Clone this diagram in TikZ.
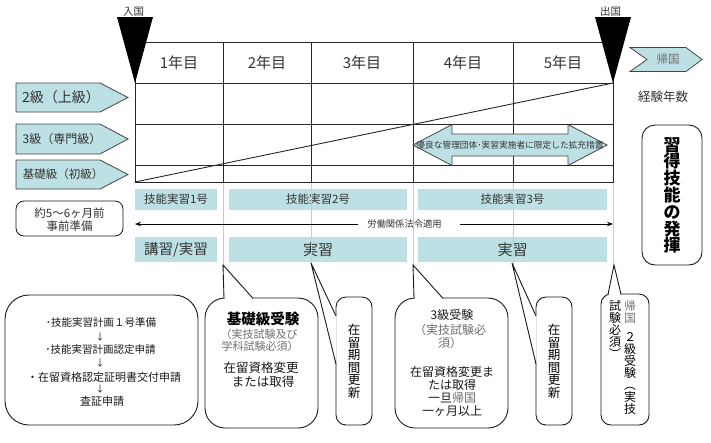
\documentclass[tikz,border=0pt]{standalone}
\usepackage{fontspec}
\setmainfont{Noto Sans CJK JP}
\usetikzlibrary{arrows.meta}
\definecolor{teal1}{HTML}{BDE0E4}
\definecolor{ink}{HTML}{333333}
\definecolor{edge}{HTML}{454545}
\definecolor{faint}{HTML}{CACACA}
\definecolor{soft}{HTML}{707070}
\newcommand{\fs}[1]{\fontsize{#1}{#1}\selectfont}
\newcommand{\fsb}[2]{\fontsize{#1}{#2}\selectfont}
\begin{document}
\begin{tikzpicture}[x=1pt,y=-1pt,
  tbl/.style={draw=black!85, line width=0.9pt},
  tealbox/.style={fill=teal1, draw=none, inner sep=0pt, text=ink},
  tag/.style={fill=teal1, draw=edge, line width=0.8pt},
  lab/.style={text=ink, inner sep=0pt},
  dark/.style={text=black!90, inner sep=0pt},
  grey/.style={text=soft, inner sep=0pt},
  vt/.style={inner sep=0pt, align=center},
  bubble/.style={draw=black!90, line width=0.9pt, fill=white},
  ptr/.style={draw=black!90, line width=0.9pt},
  guide/.style={draw=faint, line width=0.8pt},
]
\useasboundingbox (0,0) rectangle (711,442);
\fill[white] (0,0) rectangle (711,442);

% ---------- table ----------
\draw[tbl] (135,42) rectangle (613,182);
\foreach \yy in {83,124,165} \draw[tbl] (135,\yy) -- (613,\yy);
\foreach \xx in {223,311,413,513} \draw[tbl] (\xx,42) -- (\xx,182);
\draw[tbl] (135,182) -- (613,83);

\node[lab,font=\fs{15}] (y1) at (179,62.5) {1年目};
\node[lab,font=\fs{15}] (y2) at (267,62.5) {2年目};
\node[lab,font=\fs{15}] (y3) at (362,62.5) {3年目};
\node[lab,font=\fs{15}] (y4) at (463,62.5) {4年目};
\node[lab,font=\fs{15}] (y5) at (563,62.5) {5年目};

% entry / exit triangles
\fill (117,17) -- (153,17) -- (135,83) -- cycle;
\fill (595,17) -- (631,17) -- (613,83) -- cycle;
\node[lab,font=\fs{10.5}] (nyu) at (133.5,12) {入国};
\node[lab,font=\fs{10.5}] (shutsu) at (610.5,12) {出国};

% double arrow in row 3
\draw[tag] (413,145) -- (452,124.5) -- (452,134) -- (568,134) -- (568,124.5)
  -- (607,145) -- (568,165.5) -- (568,156) -- (452,156) -- (452,165.5) -- cycle;
\node[lab,font=\fs{8.7}] (kakuju) at (510,145) {優良な管理団体･実習実施者に限定した拡充措置};

% level tags
\draw[tag] (16,83) -- (100,83) -- (128,97.5) -- (100,112) -- (16,112) -- cycle;
\node[lab,font=\fs{14}] (g2) at (61,97.5) {2級（上級）};
\draw[tag] (16,124) -- (100,124) -- (128,139) -- (100,154) -- (16,154) -- cycle;
\node[lab,font=\fs{12}] (g3) at (62,139) {3級（専門級）};
\draw[tag] (16,160) -- (100,160) -- (128,174.5) -- (100,189) -- (16,189) -- cycle;
\node[lab,font=\fs{11.5}] (gk) at (63,174.5) {基礎級（初級）};

% return chevron
\draw[tag] (630,47.5) -- (686,47.5) -- (702,59.5) -- (686,71.5) -- (630,71.5) -- (647,59.5) -- cycle;
\node[grey,font=\fs{11.5}] (kikoku) at (668,59.5) {帰国};
\node[lab,font=\fs{12.5}] (keiken) at (663,97) {経験年数};

% skill box
\draw[bubble, rounded corners=13pt] (642,125) rectangle (702,265);
\node[vt,text=black,font=\bfseries\fsb{17}{16.8}] (hakki) at (672,195.5) {習\\得\\技\\能\\の\\発\\揮};

% ---------- teal rows ----------
\node[tealbox, minimum width=82pt, minimum height=21pt, font=\fs{11.5}] (t1) at (176,199.5) {技能実習1号};
\node[tealbox, minimum width=178pt, minimum height=21pt, font=\fs{11.5}] (t2) at (318,199.5) {技能実習2号};
\node[tealbox, minimum width=189pt, minimum height=21pt, font=\fs{11.5}] (t3) at (512.5,199.5) {技能実習3号};
\node[tealbox, minimum width=82pt, minimum height=25pt, font=\fs{14.5}] (p1) at (176,249.5) {講習/実習};
\node[tealbox, minimum width=178pt, minimum height=25pt, font=\fs{15}] (p2) at (318,249.5) {実習};
\node[tealbox, minimum width=189pt, minimum height=25pt, font=\fs{15}] (p3) at (512.5,249.5) {実習};

\foreach \xx in {223,311,413,513,613} \draw[guide] (\xx,182.5) -- (\xx,265);

% prep box
\draw[bubble, rounded corners=8pt, line width=0.8pt] (16,201) rectangle (123,236);
\node[vt,text=ink,font=\fsb{11.5}{13.5}] (prep) at (69.5,219.5) {約5〜6ヶ月前\\事前準備};

% labour law arrow
\node[lab,font=\fs{9.3}] (law) at (404.5,223.5) {労働関係法令適用};
\coordinate (lawA) at (135,224);
\coordinate (lawB) at (613,224);
\draw[-{Stealth[length=6pt,width=4.5pt]}, line width=0.9pt] ([xshift=-9pt]law.west |- lawA) -- (lawA);
\draw[-{Stealth[length=6pt,width=4.5pt]}, line width=0.9pt] ([xshift=18pt]law.east |- lawB) -- (lawB);

% ---------- bottom callouts ----------
% box 1
\draw[bubble, rounded corners=24pt] (5,295) rectangle (198,425);
\node[dark,font=\fs{10.5}] (s1) at (101,322) {･技能実習計画１号準備};
\node[dark,font=\fs{9}] (s1a) at (100,337) {↓};
\node[dark,font=\fs{10.5}] (s2) at (100.5,350) {･技能実習計画認定申請};
\node[dark,font=\fs{9}] (s2a) at (100,363) {↓};
\node[dark,font=\fs{11}] (s3) at (104,377) {・在留資格認定証明書交付申請};
\node[dark,font=\fs{9}] (s3a) at (100,389) {↓};
\node[dark,font=\fs{11}] (s4) at (102,401) {査証申請};

% box 2
\draw[bubble, rounded corners=20pt] (205,298) rectangle (318,428);
\coordinate (tip2) at (223,265);
\fill[white] (224.5,297) -- (tip2) -- (252.5,297) -- (252.5,299.4) -- (224.5,299.4) -- cycle;
\draw[ptr] (224,298.4) -- (tip2) -- (253,298.4);
\node[text=black,inner sep=0pt,font=\bfseries\fs{14.5}] (b2a) at (263,319) {基礎級受験};
\node[grey,font=\fs{11}] (b2b) at (259,334.5) {（実技試験及び};
\node[grey,font=\fs{11}] (b2c) at (260,346.5) {学科試験必須）};
\node[dark,font=\fs{12.5}] (b2d) at (261,368) {在留資格変更};
\node[dark,font=\fs{12.5}] (b2e) at (263,381.5) {または取得};

% box 3
\draw[bubble, rounded corners=10pt] (336,297) rectangle (372,425);
\coordinate (tip3) at (311,263);
\fill[white] (tip3) -- (336.6,316) -- (336.6,364) -- cycle;
\draw[ptr] (336,316) -- (tip3) -- (336,364);
\node[vt,text=black,font=\fsb{12.5}{12.5}] (r1) at (354,361.5) {在\\留\\期\\間\\更\\新};

% box 4
\draw[bubble, rounded corners=20pt] (395,298) rectangle (508,428);
\coordinate (tip4) at (413,265);
\fill[white] (414.5,297) -- (tip4) -- (442.5,297) -- (442.5,299.4) -- (414.5,299.4) -- cycle;
\draw[ptr] (414,298.4) -- (tip4) -- (443,298.4);
\node[dark,font=\fs{12}] (b4a) at (452,315) {3級受験};
\node[grey,font=\fs{12}] (b4b) at (450,330) {（実技試験必};
\node[grey,font=\fs{12}] (b4c) at (450,343) {須）};
\node[dark,font=\fs{12}] (b4d) at (452,372) {在留資格変更ま};
\node[dark,font=\fs{12}] (b4e) at (452,385) {たは取得};
\node[dark,font=\fs{12}] (b4f) at (452,398) {一旦\textcolor{soft}{帰国}};
\node[dark,font=\fs{12}] (b4g) at (452,411.5) {一ヶ月以上};

% box 5
\draw[bubble, rounded corners=10pt] (536,297) rectangle (572,425);
\coordinate (tip5) at (512,263);
\fill[white] (tip5) -- (536.6,316) -- (536.6,364) -- cycle;
\draw[ptr] (536,316) -- (tip5) -- (536,364);
\node[vt,text=black,font=\fsb{12.5}{12.5}] (r2) at (554,361.5) {在\\留\\期\\間\\更\\新};

% box 6
\draw[bubble, rounded corners=10pt] (601,294) rectangle (649,425);
\coordinate (tip6) at (614,265);
\fill[white] (608.5,293) -- (tip6) -- (620.5,293) -- (620.5,295.4) -- (608.5,295.4) -- cycle;
\draw[ptr] (608,294.4) -- (tip6) -- (621,294.4);
\node[vt,text=soft,font=\fsb{11.5}{12.5}] (k6a) at (630,312) {帰\\国};
\node[vt,text=black,font=\fsb{12}{12}] (k6b) at (630,373) {２\\級\\受\\験\\︵\\実\\技};
\node[vt,text=black,font=\fsb{12}{12}] (k6c) at (615,329.5) {試\\験\\必\\須\\︶};
\end{tikzpicture}
\end{document}
